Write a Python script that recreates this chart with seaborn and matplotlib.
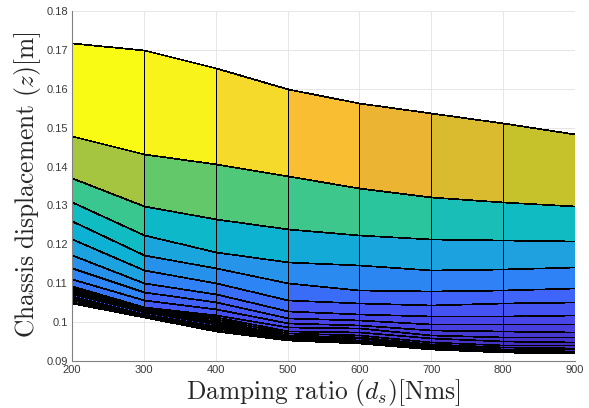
import numpy as np
import matplotlib
matplotlib.use("Agg")
import matplotlib.pyplot as plt
from matplotlib.colors import LinearSegmentedColormap, Normalize
import seaborn as sns

# Damping values (columns of the surface)
damping = [200, 300, 400, 500, 600, 700, 800, 900]

# Chassis displacement curves, one per suspension setting (top to bottom)
z_k01 = [0.1717, 0.1700, 0.1654, 0.1599, 0.1563, 0.1539, 0.1511, 0.1484]
z_k02 = [0.1478, 0.1432, 0.1406, 0.1376, 0.1346, 0.1321, 0.1309, 0.1299]
z_k03 = [0.1371, 0.1299, 0.1264, 0.1240, 0.1225, 0.1214, 0.1211, 0.1209]
z_k04 = [0.1309, 0.1224, 0.1180, 0.1155, 0.1147, 0.1134, 0.1137, 0.1142]
z_k05 = [0.1259, 0.1173, 0.1138, 0.1100, 0.1083, 0.1080, 0.1083, 0.1088]
z_k06 = [0.1214, 0.1133, 0.1100, 0.1057, 0.1048, 0.1045, 0.1048, 0.1053]
z_k07 = [0.1172, 0.1100, 0.1072, 0.1029, 0.1022, 0.1015, 0.1015, 0.1018]
z_k08 = [0.1138, 0.1077, 0.1053, 0.1010, 0.1005, 0.0995, 0.0994, 0.0995]
z_k09 = [0.1110, 0.1058, 0.1035, 0.0997, 0.0993, 0.0980, 0.0976, 0.0975]
z_k10 = [0.1092, 0.1040, 0.1018, 0.0987, 0.0984, 0.0968, 0.0962, 0.0961]
z_k11 = [0.1090, 0.1037, 0.1012, 0.0977, 0.0975, 0.0958, 0.0951, 0.0950]
z_k12 = [0.1088, 0.1034, 0.1007, 0.0972, 0.0968, 0.0950, 0.0942, 0.0941]
z_k13 = [0.1083, 0.1031, 0.1002, 0.0968, 0.0962, 0.0945, 0.0936, 0.0934]
z_k14 = [0.1078, 0.1028, 0.0998, 0.0965, 0.0958, 0.0941, 0.0932, 0.0930]
z_k15 = [0.1073, 0.1025, 0.0994, 0.0962, 0.0955, 0.0938, 0.0929, 0.0927]
z_k16 = [0.1068, 0.1022, 0.0990, 0.0960, 0.0952, 0.0936, 0.0927, 0.0925]
z_k17 = [0.1063, 0.1020, 0.0987, 0.0958, 0.0950, 0.0935, 0.0926, 0.0923]
z_k18 = [0.1058, 0.1018, 0.0984, 0.0956, 0.0948, 0.0934, 0.0925, 0.0922]
z_k19 = [0.1053, 0.1015, 0.0981, 0.0955, 0.0947, 0.0933, 0.0924, 0.0921]
z_k20 = [0.1048, 0.1013, 0.0978, 0.0954, 0.0946, 0.0932, 0.0923, 0.0920]

curves = [z_k01, z_k02, z_k03, z_k04, z_k05, z_k06, z_k07, z_k08, z_k09, z_k10,
          z_k11, z_k12, z_k13, z_k14, z_k15, z_k16, z_k17, z_k18, z_k19, z_k20]

x_ticks = [200, 300, 400, 500, 600, 700, 800, 900]
y_ticks = [0.09, 0.10, 0.11, 0.12, 0.13, 0.14, 0.15, 0.16, 0.17, 0.18]
y_ticklabels = ["0.09", "0.1", "0.11", "0.12", "0.13", "0.14", "0.15", "0.16", "0.17", "0.18"]

# parula-like colormap
parula = LinearSegmentedColormap.from_list("parula_like", [
    (0.000, (0.2422, 0.1504, 0.6603)),
    (0.050, (0.2706, 0.2008, 0.7862)),
    (0.100, (0.2810, 0.2520, 0.8880)),
    (0.150, (0.2720, 0.3150, 0.9450)),
    (0.200, (0.2480, 0.3850, 0.9750)),
    (0.270, (0.1800, 0.5100, 0.9600)),
    (0.365, (0.1200, 0.6300, 0.8800)),
    (0.420, (0.0500, 0.6900, 0.8300)),
    (0.480, (0.0500, 0.7300, 0.7800)),
    (0.535, (0.1700, 0.7700, 0.6100)),
    (0.572, (0.2400, 0.7800, 0.5500)),
    (0.610, (0.3100, 0.7850, 0.4800)),
    (0.645, (0.3900, 0.7850, 0.4100)),
    (0.700, (0.6400, 0.7700, 0.2500)),
    (0.742, (0.7800, 0.7600, 0.1700)),
    (0.807, (0.9200, 0.7100, 0.2000)),
    (0.852, (0.9800, 0.7400, 0.2000)),
    (0.920, (0.9600, 0.8500, 0.1700)),
    (1.000, (0.9769, 0.9839, 0.0805)),
])

sns.set_theme(style="whitegrid")
plt.rcParams["font.family"] = ["Liberation Sans", "DejaVu Sans"]
plt.rcParams["mathtext.fontset"] = "cm"

Z = np.array(curves)
X = np.tile(np.array(damping, dtype=float), (Z.shape[0], 1))
C = Z[:-1, :-1]  # each face takes the value at its upper-left vertex

fig = plt.figure(figsize=(5.89, 4.08), dpi=100)
ax = fig.add_axes([72 / 589, 47 / 408, 503 / 589, 350 / 408])

ax.pcolormesh(X, Z, C, shading="flat", cmap=parula,
              norm=Normalize(vmin=Z.min(), vmax=Z.max()),
              edgecolors="black", linewidth=0.5, zorder=2)

ax.set_xlim(200, 900)
ax.set_ylim(0.09, 0.18)
ax.set_xticks(x_ticks)
ax.set_yticks(y_ticks)
ax.set_yticklabels(y_ticklabels)

ax.set_facecolor("white")
ax.grid(True, color="#e6e6e6", linewidth=0.7, zorder=0)
ax.set_axisbelow(True)
for side in ("top", "right"):
    ax.spines[side].set_visible(False)
for side in ("left", "bottom"):
    ax.spines[side].set_visible(True)
    ax.spines[side].set_color("#808080")
    ax.spines[side].set_linewidth(0.8)
    ax.spines[side].set_zorder(3)

ax.tick_params(axis="both", direction="in", length=4, width=0.6,
               color="#808080", labelsize=8, labelcolor="#3a3a3a", pad=3)

fig.text(323.5 / 589, 1 - 392 / 408,
         r"$\mathrm{Damping\ ratio\ }(d_s)[\mathrm{Nms}]$",
         ha="center", va="center", fontsize=18.3, color="#262626")
fig.text(28 / 589, 1 - 185 / 408,
         r"$\mathrm{Chassis\ displacement\ }(z)[\mathrm{m}]$",
         ha="center", va="center", rotation=90, fontsize=18.3, color="#262626")

fig.savefig("out.png", dpi=100)
